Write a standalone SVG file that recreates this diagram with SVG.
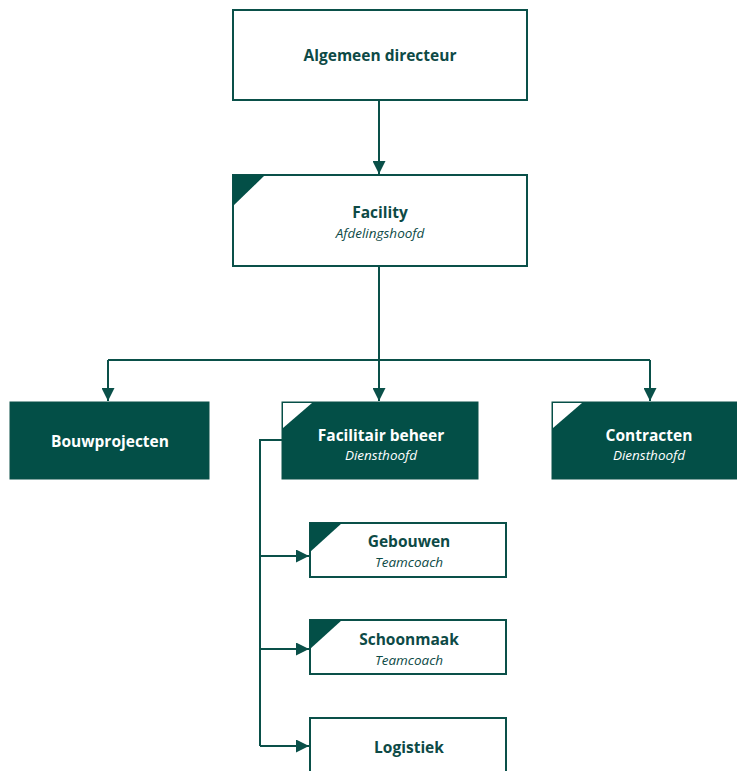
<svg xmlns="http://www.w3.org/2000/svg" width="737" height="771" viewBox="0 0 737 771">
<defs>
<style>
.box{fill:#ffffff;stroke:#0a5049;stroke-width:2}
.dbox{fill:#034f47;stroke:#0a5049;stroke-width:1}
.tri{fill:#034f47}
.wtri{fill:#ffffff}
.t{font-family:"Open Sans","Liberation Sans",sans-serif;font-weight:bold;font-size:15.5px;fill:#0d4a46;text-anchor:middle}
.s{font-family:"Open Sans","Liberation Sans",sans-serif;font-style:italic;font-size:13.5px;fill:#0d4a46;text-anchor:middle}
.tw{fill:#ffffff}
.c{fill:none;stroke:#0a5049;stroke-width:2}
</style>
<marker id="ah" viewBox="0 0 10 10" refX="10" refY="5" markerWidth="6.5" markerHeight="6.5" orient="auto" markerUnits="strokeWidth">
<path d="M0,0 L10,5 L0,10 z" fill="#0a5049"/>
</marker>
</defs>
<g id="connectors">
<path class="c" d="M379,100 V174" marker-end="url(#ah)"/>
<path class="c" d="M379,266 V401" marker-end="url(#ah)"/>
<path class="c" d="M108,360 H650"/>
<path class="c" d="M108,360 V401" marker-end="url(#ah)"/>
<path class="c" d="M650,360 V401" marker-end="url(#ah)"/>
<path class="c" d="M282,440 H260 V746"/>
<path class="c" d="M260,556 H309" marker-end="url(#ah)"/>
<path class="c" d="M260,649 H309" marker-end="url(#ah)"/>
<path class="c" d="M260,746 H309" marker-end="url(#ah)"/>
</g>
<g id="algemeen-directeur">
<rect class="box" x="233" y="10" width="294" height="90"/>
<text class="t" x="380" y="61">Algemeen directeur</text>
</g>
<g id="facility">
<rect class="box" x="233" y="175" width="294" height="91"/>
<path class="tri" d="M233,175 H265 L233,206 z"/>
<text class="t" x="380" y="218">Facility</text>
<text class="s" x="380" y="238">Afdelingshoofd</text>
</g>
<g id="bouwprojecten">
<rect class="dbox" x="10" y="402" width="199" height="77"/>
<text class="t tw" x="110" y="447">Bouwprojecten</text>
</g>
<g id="facilitair-beheer">
<rect class="dbox" x="282" y="402" width="196" height="77"/>
<path class="wtri" d="M283,403 H312 L283,428 z"/>
<text class="t tw" x="381" y="441">Facilitair beheer</text>
<text class="s tw" x="381" y="460">Diensthoofd</text>
</g>
<g id="contracten">
<rect class="dbox" x="552" y="402" width="190" height="77"/>
<path class="wtri" d="M553,403 H582 L553,428 z"/>
<text class="t tw" x="649" y="441">Contracten</text>
<text class="s tw" x="649" y="460">Diensthoofd</text>
</g>
<g id="gebouwen">
<rect class="box" x="310" y="523" width="196" height="54"/>
<path class="tri" d="M310,523 H342 L310,552 z"/>
<text class="t" x="409" y="547">Gebouwen</text>
<text class="s" x="409" y="567">Teamcoach</text>
</g>
<g id="schoonmaak">
<rect class="box" x="310" y="620" width="196" height="54"/>
<path class="tri" d="M310,620 H342 L310,649 z"/>
<text class="t" x="409" y="645">Schoonmaak</text>
<text class="s" x="409" y="665">Teamcoach</text>
</g>
<g id="logistiek">
<rect class="box" x="310" y="718" width="196" height="70"/>
<text class="t" x="409" y="753">Logistiek</text>
</g>
</svg>
